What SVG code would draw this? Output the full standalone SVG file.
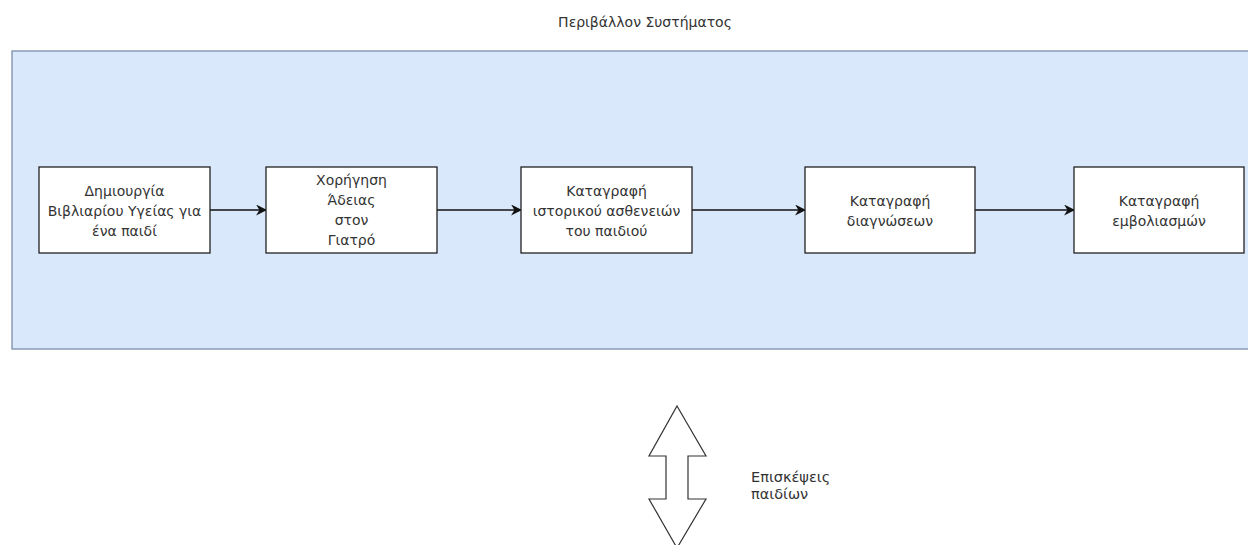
<svg xmlns="http://www.w3.org/2000/svg" width="1248" height="545" viewBox="0 0 1248 545">
  <defs>
    <style>
      .lbl { font-family: "DejaVu Sans", "Liberation Sans", sans-serif; font-size: 14px; fill: #333333; }
      .side { font-size: 14.5px; }
      .mid { text-anchor: middle; }
      .box { fill: #ffffff; stroke: #222222; stroke-width: 1.3; }
      .env { fill: #dae8fc; stroke: #7b8ea8; stroke-width: 1.3; }
      .edge { fill: none; stroke: #111111; stroke-width: 1.3; marker-end: url(#arrow); }
    </style>
    <marker id="arrow" viewBox="0 0 10 10" refX="9" refY="5" markerWidth="11" markerHeight="11" markerUnits="userSpaceOnUse" orient="auto">
      <path d="M0,0 L10,5 L0,10 L3,5 Z" fill="#111111"/>
    </marker>
  </defs>

  <rect width="1248" height="545" fill="#ffffff"/>

  <!-- system environment -->
  <g id="environment">
    <text class="lbl mid" x="645" y="27">Περιβάλλον Συστήματος</text>
    <rect class="env" x="12" y="51" width="1250" height="298"/>
  </g>

  <!-- flow connectors -->
  <g id="connectors">
    <line class="edge" x1="210" y1="210" x2="266" y2="210"/>
    <line class="edge" x1="437" y1="210" x2="521" y2="210"/>
    <line class="edge" x1="692" y1="210" x2="805" y2="210"/>
    <line class="edge" x1="975" y1="210" x2="1074" y2="210"/>
  </g>

  <g id="create-booklet">
    <rect class="box" x="39" y="167" width="171" height="86"/>
    <text class="lbl mid" x="124.5" y="196">Δημιουργία</text>
    <text class="lbl mid" x="124.5" y="216">Βιβλιαρίου Υγείας για</text>
    <text class="lbl mid" x="124.5" y="236">ένα παιδί</text>
  </g>

  <g id="grant-permission">
    <rect class="box" x="266" y="167" width="171" height="86"/>
    <text class="lbl mid" x="351.5" y="185">Χορήγηση</text>
    <text class="lbl mid" x="351.5" y="205">Άδειας</text>
    <text class="lbl mid" x="351.5" y="225">στον</text>
    <text class="lbl mid" x="351.5" y="245">Γιατρό</text>
  </g>

  <g id="record-history">
    <rect class="box" x="521" y="167" width="171" height="86"/>
    <text class="lbl mid" x="606.5" y="196">Καταγραφή</text>
    <text class="lbl mid" x="606.5" y="216">ιστορικού ασθενειών</text>
    <text class="lbl mid" x="606.5" y="236">του παιδιού</text>
  </g>

  <g id="record-diagnoses">
    <rect class="box" x="805" y="167" width="170" height="86"/>
    <text class="lbl mid" x="890" y="206">Καταγραφή</text>
    <text class="lbl mid" x="890" y="226">διαγνώσεων</text>
  </g>

  <g id="record-vaccinations">
    <rect class="box" x="1074" y="167" width="170" height="86"/>
    <text class="lbl mid" x="1159" y="206">Καταγραφή</text>
    <text class="lbl mid" x="1159" y="226">εμβολιασμών</text>
  </g>

  <!-- two-way exchange with the outside -->
  <g id="child-visits">
    <polygon points="677,406 706,456 688,456 688,499 706,499 677,548 649,499 666,499 666,456 649,456" fill="#ffffff" stroke="#333333" stroke-width="1.2"/>
    <text class="lbl side" x="751" y="482">Επισκέψεις</text>
    <text class="lbl side" x="751" y="499">παιδίων</text>
  </g>
</svg>
